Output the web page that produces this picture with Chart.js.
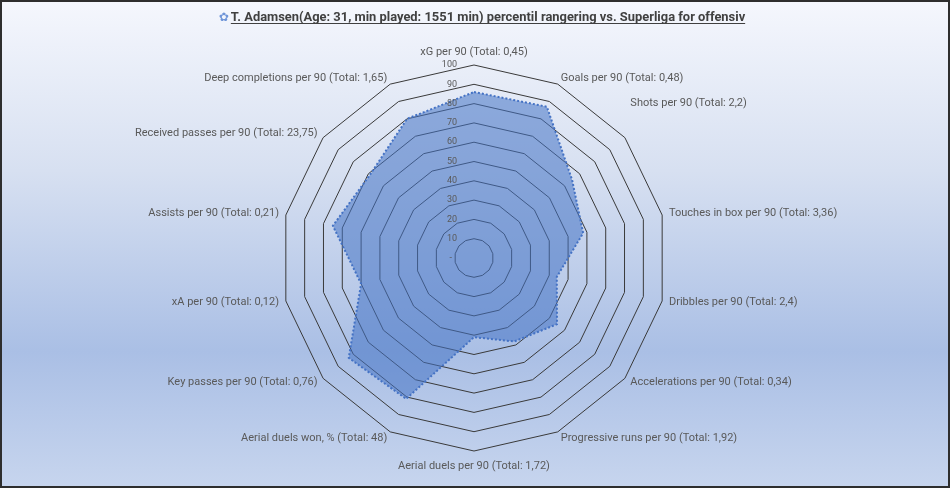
<!DOCTYPE html>
<html>
<head>
<meta charset="utf-8">
<script src="https://cdn.jsdelivr.net/npm/chart.js@4.4.1/dist/chart.umd.min.js"></script>
<style>
  html, body { margin: 0; padding: 0; }
  #wrap { width: 950px; height: 488px; position: relative; }
</style>
</head>
<body>
<div id="wrap"><canvas id="radar" width="950" height="488"></canvas></div>
<script>
const titleText = "T. Adamsen(Age: 31, min played: 1551 min) percentil rangering vs. Superliga for offensiv";

const categories = [
  "xG per 90 (Total: 0,45)",
  "Goals per 90 (Total: 0,48)",
  "Shots per 90 (Total: 2,2)",
  "Touches in box per 90 (Total: 3,36)",
  "Dribbles per 90 (Total: 2,4)",
  "Accelerations per 90 (Total: 0,34)",
  "Progressive runs per 90 (Total: 1,92)",
  "Aerial duels per 90 (Total: 1,72)",
  "Aerial duels won, % (Total: 48)",
  "Key passes per 90 (Total: 0,76)",
  "xA per 90 (Total: 0,12)",
  "Assists per 90 (Total: 0,21)",
  "Received passes per 90 (Total: 23,75)",
  "Deep completions per 90 (Total: 1,65)"
];

const percentiles = [86, 87, 65, 58, 44, 55, 48, 41, 81, 83, 60, 75, 69, 80];

const tickValues = [0, 10, 20, 30, 40, 50, 60, 70, 80, 90, 100];
const tickLabels = ["-", "10", "20", "30", "40", "50", "60", "70", "80", "90", "100"];

// background gradient + frame
const backdrop = {
  id: 'backdrop',
  beforeDraw(chart) {
    const ctx = chart.ctx;
    const w = chart.width, h = chart.height;
    ctx.save();
    const g = ctx.createLinearGradient(0, 0, 0, h);
    g.addColorStop(0, '#f5f7fd');
    g.addColorStop(0.35, '#d7e0f1');
    g.addColorStop(0.72, '#aabfe5');
    g.addColorStop(1, '#c7d5ee');
    ctx.fillStyle = g;
    ctx.fillRect(0, 0, w, h);
    ctx.strokeStyle = '#2e2e2e';
    ctx.lineWidth = 2;
    ctx.strokeRect(1, 1, w - 2, h - 2);
    ctx.restore();
  }
};

// underlined title with small icon
const headline = {
  id: 'headline',
  afterDraw(chart) {
    const ctx = chart.ctx;
    ctx.save();
    ctx.font = 'bold 12.9px Roboto, sans-serif';
    ctx.textBaseline = 'alphabetic';
    const tw = ctx.measureText(titleText).width;
    const x0 = 488 - tw / 2;
    const y0 = 21;
    ctx.fillStyle = '#404040';
    ctx.fillText(titleText, x0, y0);
    ctx.fillRect(x0, y0 + 2, tw, 1);
    ctx.font = '12px "DejaVu Sans"';
    ctx.fillStyle = '#6f95d8';
    ctx.textAlign = 'right';
    ctx.fillText('\u273F', x0 - 2, y0);
    ctx.restore();
  }
};

// tick labels to the left of the vertical axis
const tickText = {
  id: 'tickText',
  afterDatasetsDraw(chart) {
    const s = chart.scales.r;
    const ctx = chart.ctx;
    ctx.save();
    ctx.font = '9px Roboto, sans-serif';
    ctx.fillStyle = '#595959';
    ctx.textAlign = 'right';
    ctx.textBaseline = 'middle';
    tickValues.forEach((v, i) => {
      const d = s.getDistanceFromCenterForValue(v);
      const extra = v === 0 ? 5 : 0;
      ctx.fillText(tickLabels[i], s.xCenter - 17 - extra, s.yCenter - d);
    });
    ctx.restore();
  }
};

// category labels placed just outside the outer ring, like the office chart
const axisText = {
  id: 'axisText',
  afterDatasetsDraw(chart) {
    const s = chart.scales.r;
    const ctx = chart.ctx;
    ctx.save();
    ctx.font = '11px Roboto, sans-serif';
    ctx.fillStyle = '#595959';
    chart.data.labels.forEach((lab, i) => {
      const p = s.getPointPositionForValue(i, 100);
      const dx = Math.cos(p.angle), dy = Math.sin(p.angle);
      let x = p.x + 7 * dx;
      let y = p.y + 7 * dy;
      if (Math.abs(dx) < 0.05) {
        ctx.textAlign = 'center';
        ctx.textBaseline = dy < 0 ? 'bottom' : 'top';
        if (dy > 0) y += 3;
      } else {
        ctx.textAlign = dx > 0 ? 'left' : 'right';
        ctx.textBaseline = 'middle';
      }
      if (i === 2) y -= 30; // shots label sits higher in the original
      ctx.fillText(lab, x, y);
    });
    ctx.restore();
  }
};

const ctx = document.getElementById('radar').getContext('2d');

const radar = new Chart(ctx, {
  type: 'radar',
  data: {
    labels: categories,
    datasets: [
      {
        label: 'Percentil',
        data: percentiles,
        backgroundColor: 'rgba(68, 114, 196, 0.55)',
        borderColor: '#4472c4',
        borderWidth: 2,
        borderDash: [2, 2],
        pointRadius: 0,
        fill: true
      }
    ]
  },
  options: {
    responsive: false,
    animation: false,
    layout: {
      padding: { top: 65, bottom: 37, left: 0, right: 2 }
    },
    scales: {
      r: {
        min: 0,
        max: 100,
        ticks: { stepSize: 10, display: false },
        grid: { color: '#3a3a3a', lineWidth: 1 },
        angleLines: { display: false },
        pointLabels: { display: false }
      }
    },
    plugins: {
      legend: { display: false },
      tooltip: { enabled: false },
      title: { display: false }
    }
  },
  plugins: [backdrop, headline, tickText, axisText]
});
</script>
</body>
</html>
